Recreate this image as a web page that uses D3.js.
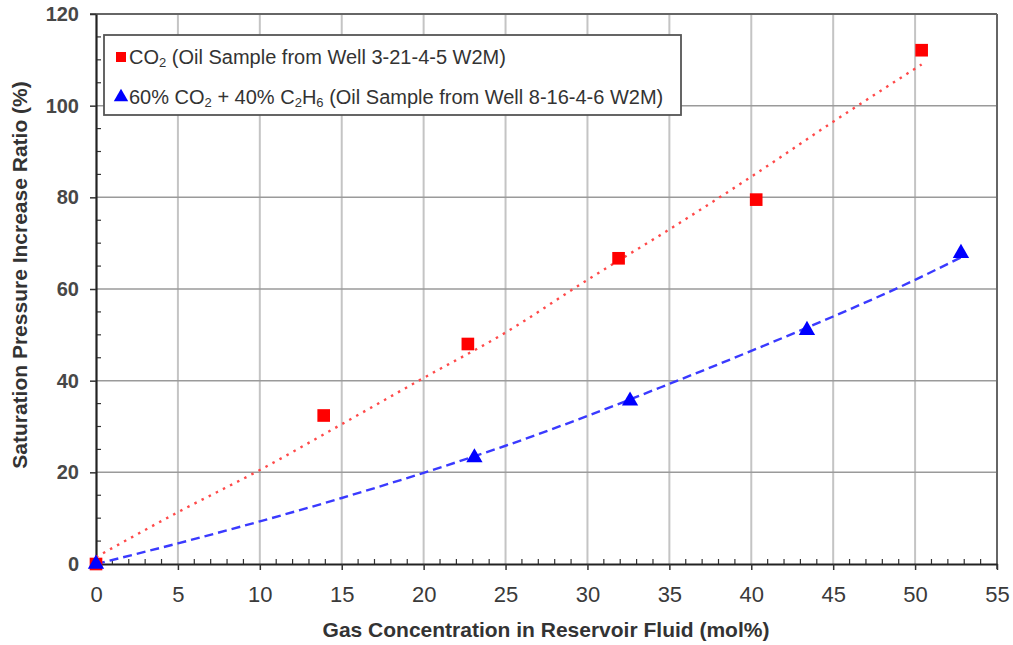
<!DOCTYPE html>
<html><head><meta charset="utf-8">
<script src="https://cdn.jsdelivr.net/npm/d3@7"></script>
<style>
html,body{margin:0;padding:0;background:#fff;}
text{font-family:"Liberation Sans",Arial,sans-serif;}
</style></head>
<body><svg id="c" width="1013" height="645"></svg>
<script>
// ---- data ----
const co2X = [0, 13.9, 22.7, 31.9, 40.3, 50.4];
const co2Y = [0, 32.4, 48.0, 66.7, 79.5, 112.1];
const mixX = [0, 23.1, 32.6, 43.4, 52.8];
const mixY = [0, 23.2, 35.6, 51.0, 67.8];
// trend lines
const co2TrendX = [0, 5, 10, 15, 20, 25, 30, 35, 40, 45, 50.4];
const co2TrendY = [1.5, 11.3, 20.5, 30.5, 40.6, 50.5, 62.0, 73.0, 84.5, 96.5, 109];
const mixTrendX = [0, 5, 10, 15, 20, 25, 30, 35, 40, 45, 50, 52.8];
const mixTrendY = [0, 4.5, 9.3, 14.4, 19.9, 25.8, 32.3, 39.3, 46.5, 54.0, 62.0, 66.9];
const xTicks = [0,5,10,15,20,25,30,35,40,45,50,55];
const yTicks = [0,20,40,60,80,100,120];
const legendLabels = [
  [["CO"],["2","sub"],[" (Oil Sample from Well 3-21-4-5 W2M)"]],
  [["60% CO"],["2","sub"],[" + 40% C"],["2","sub"],["H"],["6","sub"],[" (Oil Sample from Well 8-16-4-6 W2M)"]]
];

const svg = d3.select("#c");
const L=96, R=997, T=14, B=564;
const x = d3.scaleLinear().domain([0,55]).range([L,R]);
const y = d3.scaleLinear().domain([0,120]).range([B,T]);

// grid
svg.append("g").selectAll("line").data(xTicks.slice(1)).join("line")
  .attr("x1",d=>x(d)).attr("x2",d=>x(d)).attr("y1",T).attr("y2",B)
  .attr("stroke","#c4c4c4").attr("stroke-width",2);
svg.append("g").selectAll("line").data(yTicks.slice(1)).join("line")
  .attr("x1",L).attr("x2",R).attr("y1",d=>y(d)).attr("y2",d=>y(d))
  .attr("stroke","#9a9a9a").attr("stroke-width",1.5);
// frame top/right
svg.append("line").attr("x1",L-6).attr("x2",R).attr("y1",T).attr("y2",T).attr("stroke","#666").attr("stroke-width",2);
svg.append("line").attr("x1",R).attr("x2",R).attr("y1",T).attr("y2",B+5).attr("stroke","#666").attr("stroke-width",2);

// minor ticks
const xMinor = d3.range(1,55).filter(v=>v%5!==0);
svg.append("g").selectAll("line").data(xMinor).join("line")
  .attr("x1",d=>x(d)).attr("x2",d=>x(d)).attr("y1",B).attr("y2",B-5)
  .attr("stroke","#333").attr("stroke-width",1.2);
const yMinor = d3.range(5,120,5).filter(v=>v%20!==0);
svg.append("g").selectAll("line").data(yMinor).join("line")
  .attr("x1",L).attr("x2",L+5).attr("y1",d=>y(d)).attr("y2",d=>y(d))
  .attr("stroke","#333").attr("stroke-width",1.2);

// axes
const xAxis = svg.append("g").attr("transform",`translate(0,${B})`)
  .call(d3.axisBottom(x).tickValues(xTicks).tickSize(6).tickSizeOuter(0).tickFormat(d3.format("d")));
xAxis.select(".domain").attr("stroke","#222").attr("stroke-width",2.2);
xAxis.selectAll(".tick line").attr("stroke","#333").attr("stroke-width",1.5);
xAxis.selectAll(".tick text").attr("font-family","'Liberation Sans Narrow','Liberation Sans',sans-serif")
  .attr("font-size",22).attr("fill","#3a3a3a").attr("y",38).attr("dy",0);
const yAxis = svg.append("g").attr("transform",`translate(${L},0)`)
  .call(d3.axisLeft(y).tickValues(yTicks).tickSize(6).tickSizeOuter(0).tickFormat(d3.format("d")));
yAxis.select(".domain").attr("stroke","#222").attr("stroke-width",2.2);
yAxis.selectAll(".tick text").attr("font-size",20).attr("font-weight","bold").attr("fill","#474747").attr("x",-17);
yAxis.selectAll(".tick line").attr("stroke","#333").attr("stroke-width",1.5);

// titles
svg.append("text").attr("x",546).attr("y",637).attr("text-anchor","middle")
  .attr("font-size",21).attr("font-weight","bold").attr("fill","#333")
  .text("Gas Concentration in Reservoir Fluid (mol%)");
svg.append("text").attr("transform","translate(27,275) rotate(-90)").attr("text-anchor","middle")
  .attr("font-size",21).attr("font-weight","bold").attr("fill","#333")
  .text("Saturation Pressure Increase Ratio (%)");

// trend lines
const line = d3.line().x(d=>x(d[0])).y(d=>y(d[1])).curve(d3.curveMonotoneX);
svg.append("path").datum(co2TrendX.map((v,i)=>[v,co2TrendY[i]])).attr("d",line)
  .attr("fill","none").attr("stroke","#ff4a4a").attr("stroke-width",2.4)
  .attr("stroke-dasharray","2.5,5.5");
svg.append("path").datum(mixTrendX.map((v,i)=>[v,mixTrendY[i]])).attr("d",line)
  .attr("fill","none").attr("stroke","#3a3aff").attr("stroke-width",2.4)
  .attr("stroke-dasharray","9,5");

// markers
const sq = d3.symbol().type(d3.symbolSquare).size(160);
const tri = d3.symbol().type(d3.symbolTriangle).size(115);
svg.append("g").selectAll("path").data(co2X.map((v,i)=>[v,co2Y[i]])).join("path")
  .attr("d",sq).attr("transform",d=>`translate(${x(d[0])},${y(d[1])})`).attr("fill","#ff0000");
svg.append("g").selectAll("path").data(mixX.map((v,i)=>[v,mixY[i]])).join("path")
  .attr("d",tri).attr("transform",d=>`translate(${x(d[0])},${y(d[1])})`).attr("fill","#0000ff");

// legend
const lg = svg.append("g");
lg.append("rect").attr("x",104).attr("y",35).attr("width",577).attr("height",80)
  .attr("fill","#fff").attr("stroke","#555").attr("stroke-width",1.8);
const lgY = [57, 97];
lg.append("path").attr("d",d3.symbol().type(d3.symbolSquare).size(100))
  .attr("transform",`translate(121,${lgY[0]})`).attr("fill","#ff0000");
lg.append("path").attr("d",d3.symbol().type(d3.symbolTriangle).size(90))
  .attr("transform",`translate(121,${lgY[1]})`).attr("fill","#0000ff");
legendLabels.forEach((parts,i)=>{
  const t = lg.append("text").attr("x",129).attr("y",lgY[i]+7)
    .attr("font-size",20).attr("fill","#333");
  parts.forEach(p=>{
    const ts = t.append("tspan").text(p[0]);
    if(p[1]==="sub") ts.attr("font-size",13).attr("dy",3);
    else if(ts.node().previousSibling && ts.node().previousSibling.getAttribute("dy")) ts.attr("dy",-3);
  });
});
</script></body></html>
